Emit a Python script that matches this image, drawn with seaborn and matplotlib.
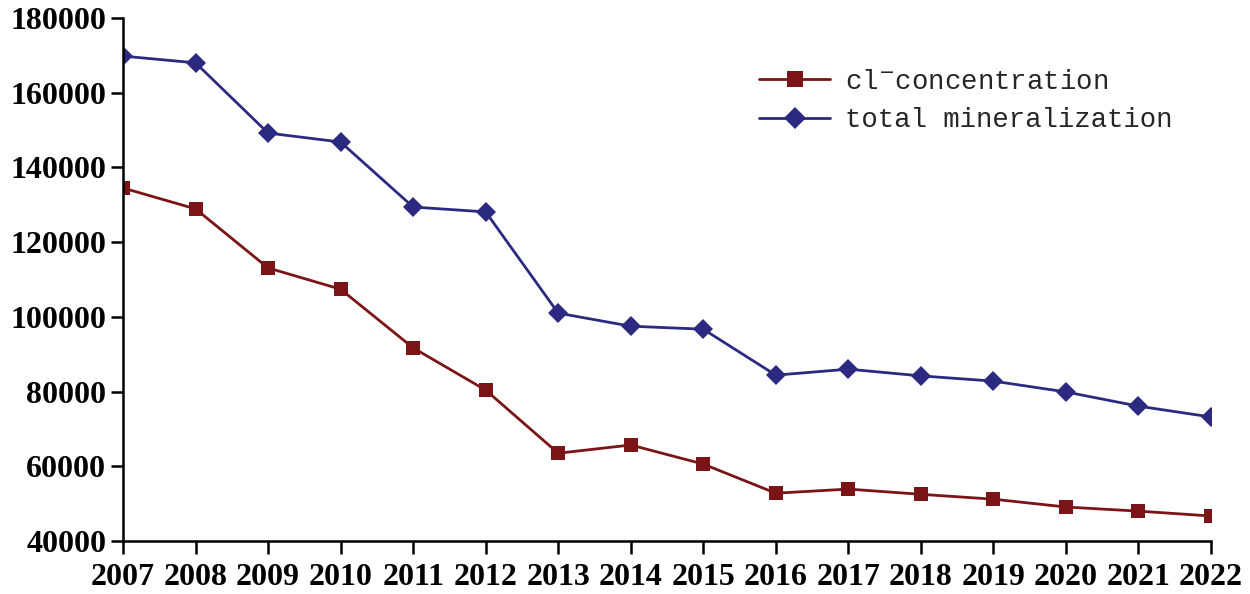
import pandas as pd
import numpy as np
import seaborn as sns
import matplotlib.pyplot as plt

sns.set_style('ticks')

years = list(range(2007, 2023))
cl_conc = [134500, 128900, 113100, 107400, 91700, 80400, 63500, 65700,
           60600, 52800, 53900, 52500, 51200, 49100, 48000, 46700]
total_min = [169800, 168000, 149200, 146800, 129400, 128100, 101000, 97500,
             96700, 84400, 86000, 84200, 82800, 79900, 76100, 73200]
series = ['cl$^{-}$concentration', 'total mineralization']

df = pd.DataFrame({'year': years * 2,
                   'value': cl_conc + total_min,
                   'series': [series[0]] * len(years) + [series[1]] * len(years)})

fig = plt.figure(figsize=(12.5, 5.94), dpi=100)
ax = fig.add_axes([0.0984, 0.0892, 0.8704, 0.8805])

sns.lineplot(data=df, x='year', y='value', hue='series', style='series',
             palette=['#7a1416', '#2b2a80'], markers=['s', 'D'], dashes=False,
             markersize=10, linewidth=2, markeredgewidth=0, ax=ax)

ax.set_xlim(2007, 2022)
ax.set_ylim(40000, 180000)
ax.set_xticks(years)
ax.set_yticks(np.arange(40000, 180001, 20000))
tick_font = dict(fontfamily=['Liberation Serif', 'DejaVu Serif'], fontweight='bold', fontsize=23)
ax.set_xticklabels([str(y) for y in years], **tick_font)
ax.set_yticklabels([str(v) for v in range(40000, 180001, 20000)], **tick_font)
ax.set_xlabel('')
ax.set_ylabel('')
ax.tick_params(axis='both', direction='out', length=9, width=1.8, colors='black')
ax.tick_params(axis='x', pad=7)
ax.tick_params(axis='y', pad=3)
for s in ['left', 'bottom']:
    ax.spines[s].set_linewidth(1.8)
    ax.spines[s].set_color('black')
sns.despine(ax=ax)

leg = ax.legend(loc='upper left', bbox_to_anchor=(0.562, 0.95), frameon=False,
                prop={'family': 'Liberation Mono', 'size': 19.7},
                handlelength=2.6, labelspacing=0.45, handletextpad=0.55)
for h in leg.legend_handles:
    h.set_markersize(11)

plt.savefig('out.png', dpi=100)
